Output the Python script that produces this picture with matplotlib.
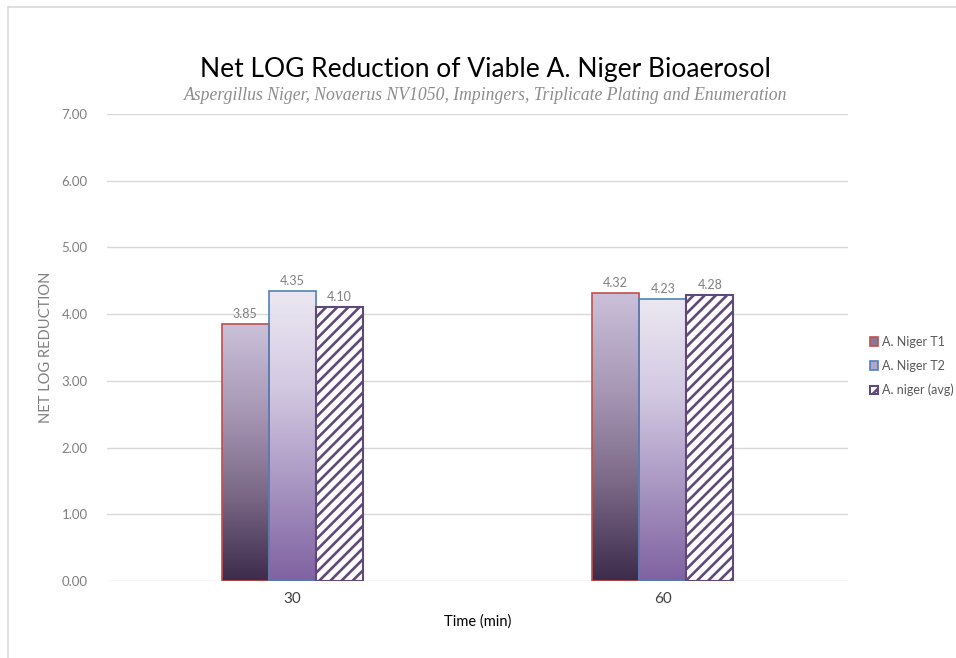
import numpy as np
import matplotlib.pyplot as plt
from matplotlib.colors import LinearSegmentedColormap
from matplotlib.lines import Line2D

categorias = ['30', '60']
series = ['A. Niger T1', 'A. Niger T2', 'A. niger (avg)']
t1 = [3.85, 4.32]
t2 = [4.35, 4.23]
media = [4.10, 4.28]
rotulos_y = ['0.00', '1.00', '2.00', '3.00', '4.00', '5.00', '6.00', '7.00']

# degradês estilo Excel
cmap_t1 = LinearSegmentedColormap.from_list('t1', ['#3d2b4c', '#7b6887', '#a898b6', '#cbc0da'])
cmap_t2 = LinearSegmentedColormap.from_list('t2', ['#7f62a1', '#a996c2', '#d3c9e2', '#ece8f2'])

plt.rcParams['hatch.linewidth'] = 1.9

fig = plt.figure(figsize=(9.56, 6.58), dpi=100)
ax = fig.add_axes([107/956, 1 - 581/658, (848 - 107)/956, (581 - 114)/658])

x = np.arange(len(categorias))
largura = 0.127

barras_t1 = ax.bar(x - largura, t1, width=largura, facecolor='none', edgecolor='#c0504d', linewidth=1.2, zorder=3)
barras_t2 = ax.bar(x, t2, width=largura, facecolor='none', edgecolor='#4f81bd', linewidth=1.2, zorder=3)
barras_avg = ax.bar(x + largura, media, width=largura, facecolor='white', edgecolor='#5f497a',
                    hatch='///', linewidth=1.5, zorder=3)

grad = np.linspace(0, 1, 256).reshape(-1, 1)
for barras, cmap in [(barras_t1, cmap_t1), (barras_t2, cmap_t2)]:
    for b in barras:
        x0, y0 = b.get_x(), b.get_y()
        img = ax.imshow(grad, cmap=cmap, origin='lower', aspect='auto',
                        extent=[x0, x0 + b.get_width(), y0, y0 + b.get_height()], zorder=2)
        img.set_clip_path(b)

# rótulos de dados
for barras, vals in [(barras_t1, t1), (barras_t2, t2), (barras_avg, media)]:
    for b, v in zip(barras, vals):
        ax.text(b.get_x() + b.get_width()/2, v + 0.06, f'{v:.2f}', ha='center', va='bottom',
                fontsize=9, color='#7f7f7f', family='Lato')

ax.set_xlim(-0.5, 1.5)
ax.set_ylim(0, 7)
ax.set_yticks(range(8))
ax.set_yticklabels(rotulos_y, family='Lato', fontsize=9.5, color='#7f7f7f')
ax.set_xticks(x)
ax.set_xticklabels(categorias, family='Lato', fontsize=11, color='#404040')
ax.tick_params(length=0, pad=14)
ax.tick_params(axis='x', pad=8)
ax.grid(axis='y', color='#d9d9d9', linewidth=1, zorder=0)
for s in ax.spines.values():
    s.set_visible(False)

ax.set_xlabel('Time (min)', family='Lato', fontsize=10.5, color='black', labelpad=6)
ax.set_ylabel('NET LOG REDUCTION', family='Lato', fontsize=10.5, color='#7f7f7f', labelpad=6)

fig.text(485/956, 1 - 70/658, 'Net LOG Reduction of Viable A. Niger Bioaerosol', ha='center', va='center',
         family='Lato', fontsize=19, color='black')
fig.text(486/956, 1 - 96/658, 'Aspergillus Niger, Novaerus NV1050, Impingers, Triplicate Plating and Enumeration',
         ha='center', va='center', family='Liberation Serif', style='italic', fontsize=12.7, color='#8c8c8c')

leg = ax.legend([barras_t1[0], barras_t2[0], barras_avg[0]], series, loc='center left',
                bbox_to_anchor=(1.014, 0.46), frameon=False, handlelength=0.7, handleheight=0.7,
                handletextpad=0.3, labelspacing=0.95, prop={'family': 'Lato', 'size': 9})
for t in leg.get_texts():
    t.set_color('#595959')
# preencher os ícones da legenda
leg.legend_handles[0].set_facecolor('#8a7898')
leg.legend_handles[1].set_facecolor('#b3a5c9')

# borda da imagem
fig.add_artist(Line2D([8/956, 8/956], [0, 1 - 7/658], color='#d9d9d9', linewidth=1.2))
fig.add_artist(Line2D([8/956, 1], [1 - 7/658, 1 - 7/658], color='#d9d9d9', linewidth=1.2))

fig.savefig('out.png', dpi=100)
